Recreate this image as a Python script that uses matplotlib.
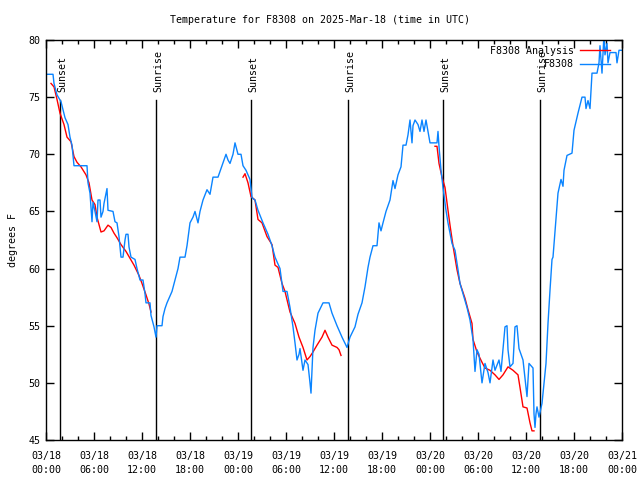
import numpy as np
import matplotlib
matplotlib.use("Agg")
import matplotlib.pyplot as plt

# hours since 2025-03-18 00:00 UTC
obs_hours = [0.125, 0.875, 1.0, 1.375, 1.875, 2.125, 2.375, 2.75, 3.0, 3.25, 3.375, 3.5, 5.125, 5.25, 5.5, 5.75, 5.875,
             6.125, 6.375, 6.5, 6.75, 6.875, 7.125, 7.25, 7.5, 7.625, 7.75, 8.375, 8.625, 8.875, 9.125, 9.375, 9.625,
             9.875, 10.0, 10.25, 10.375, 10.625, 11.125, 11.375, 11.75, 12.125, 12.375, 12.5, 13.0, 13.125, 13.5,
             13.75, 13.875, 14.125, 14.5, 14.625, 14.875, 15.125, 15.75, 16.125, 16.5, 16.75, 17.375, 17.625, 18.0,
             18.375, 18.625, 19.0, 19.25, 19.625, 20.125, 20.5, 20.875, 21.5, 22.0, 22.5, 22.75, 23.0, 23.375, 23.625,
             24.0, 24.375, 24.625, 25.0, 25.5, 25.75, 26.125, 26.5, 27.125, 27.75, 28.25, 28.625, 29.25, 29.625,
             30.125, 30.5, 30.875, 31.125, 31.375, 31.625, 31.75, 32.125, 32.375, 32.75, 33.0, 33.125, 33.375, 33.625,
             34.0, 34.625, 35.375, 35.75, 36.375, 37.0, 37.625, 38.0, 38.625, 39.0, 39.5, 39.875, 40.25, 40.5, 40.875,
             41.375, 41.625, 41.875, 42.125, 42.5, 43.0, 43.375, 43.625, 44.0, 44.375, 44.625, 45.0, 45.25, 45.5,
             45.75, 45.875, 46.125, 46.5, 46.75, 47.0, 47.25, 47.5, 47.625, 48.0, 48.875, 49.0, 49.125, 49.375,
             49.625, 50.0, 50.25, 50.75, 51.125, 51.5, 51.75, 52.125, 52.625, 53.0, 53.375, 53.625, 53.875, 54.125,
             54.5, 54.875, 55.25, 55.5, 55.875, 56.125, 56.625, 56.875, 57.375, 57.625, 57.75, 58.0, 58.375, 58.625,
             58.875, 59.125, 59.625, 60.0, 60.125, 60.375, 60.625, 60.875, 61.0, 61.125, 61.25, 61.375, 61.625, 62.0,
             62.25, 62.5, 62.75, 63.0, 63.25, 63.375, 63.75, 64.0, 64.375, 64.625, 64.75, 65.125, 65.75, 66.0, 66.5,
             67.0, 67.375, 67.5, 67.75, 68.0, 68.25, 68.875, 69.125, 69.25, 69.5, 69.75, 69.875, 70.125, 70.25, 70.5,
             71.25, 71.375, 71.625, 72.0]
obs_temps = [77, 77, 76.2, 75.2, 74.6, 73.9, 73.2, 72.6, 71.5, 70.8, 69.9, 69, 69, 67.5, 66.6, 64.1, 65.8,
             65, 64.1, 66, 66, 64.5, 65, 65.7, 66.6, 67, 65.1, 65, 64.1, 64, 62.8, 61, 61,
             62.5, 63, 63, 61.9, 61, 60.8, 60, 59, 59, 57.8, 57, 57, 55.9, 54.9,
             54, 55, 55, 55, 55.8, 56.5, 57, 58, 59, 60, 61, 61, 62, 64,
             64.5, 65, 64, 65, 66, 66.9, 66.5, 68, 68, 69, 70, 69.5, 69.2, 70, 71,
             70, 70, 69, 68.6, 67.8, 66.2, 66, 65.1, 64, 63, 62, 61, 60, 58,
             58, 56.6, 54.9, 53.5, 52, 52.5, 53, 51.1, 52, 51.6, 50, 49.1, 53.1, 54.6,
             56.1, 57, 57, 56.1, 55, 54, 53.1, 54, 54.9, 56, 57, 58.4, 60.1, 61, 62,
             62, 64, 63.3, 64, 65, 66, 67.7, 67, 68.2, 68.9, 70.8, 70.8, 71.7, 73,
             71, 72.5, 73, 72.6, 72, 73, 72, 73, 72.5, 71, 71, 72, 70.7, 68.6,
             67.1, 65.1, 64, 62.2, 61.6, 59.9, 58.7, 57.8, 56.6, 55.5, 53.8, 51, 52.9, 52.5,
             50, 51.7, 50.9, 50, 52, 51.1, 52, 51, 54.9, 55, 52.9, 51.4, 51.7, 54.9,
             55, 53, 52, 49.6, 48.8, 51.7, 51.5, 51.3, 47.3, 46.1, 47.3, 47.9, 47, 48.2,
             50, 51.7, 55.2, 58.1, 60.8, 61, 64.3, 66.6, 67.8, 67.2, 68.6, 69.9, 70.1, 72.1, 73.6,
             75, 75, 74, 74.7, 74, 77.1, 77.1, 78, 79.5, 77.1, 80.5, 78.7, 79.7, 78, 78.9,
             78.9, 78, 79.1, 79.1]

ana1_hours = [0.625, 1.0, 1.375, 1.75, 2.25, 2.625, 3.125, 3.5, 3.875, 4.375, 5.0, 5.375, 5.75, 6.125, 6.375,
              6.875, 7.25, 7.75, 8.125, 8.5, 8.875, 9.375, 10.0, 10.5, 11.0, 11.625, 12.0, 12.5, 12.875, 13.125]
ana1_temps = [76.2, 75.9, 74.8, 73.6, 72.6, 71.5, 71.1, 69.8, 69.3, 68.9, 68.2, 67.5, 66, 65.6, 64.5,
              63.2, 63.3, 63.8, 63.6, 63.1, 62.7, 62.1, 61.5, 60.9, 60.3, 59.4, 58.7, 57.7, 56.9, 56.2]
ana2_hours = [24.625, 24.875, 25.25, 25.625, 26.125, 26.5, 27.0, 27.625, 28.25, 28.625, 29.0, 29.5, 29.875,
              30.5, 31.125, 31.625, 32.125, 32.625, 33.0, 33.375, 33.875, 34.5, 34.875, 35.25, 35.75, 36.375,
              36.625, 36.875]
ana2_temps = [68, 68.3, 67.5, 66.3, 66, 64.3, 64, 62.8, 62.1, 60.3, 60.1, 58.7, 58,
              56.2, 55.2, 54, 53.1, 52, 52.3, 52.7, 53.3, 54, 54.6, 54, 53.3, 53.1,
              52.9, 52.4]
ana3_hours = [48.625, 48.875, 49.125, 49.5, 49.875, 50.25, 50.5, 50.875, 51.375, 51.75, 52.375, 52.75, 53.25,
              53.375, 53.875, 54.5, 54.875, 55.5, 56.125, 56.625, 57.125, 57.75, 58.375, 59.0, 59.25, 59.625,
              60.125, 60.5, 60.75, 61.0]
ana3_temps = [70.7, 70.7, 69.2, 68, 67.1, 65.1, 63.8, 62, 59.9, 58.7, 57.4, 56.4, 55.2,
              53.8, 52.7, 51.8, 51.3, 51.1, 50.7, 50.3, 50.7, 51.4, 51.1, 50.7, 49.6, 47.9,
              47.8, 46.5, 45.8, 45.8]

sun_hours = [1.7, 13.7, 25.6, 37.7, 49.6, 61.7]
sun_labels = ["Sunset", "Sunrise", "Sunset", "Sunrise", "Sunset", "Sunrise"]

xtick_hours = [0, 6, 12, 18, 24, 30, 36, 42, 48, 54, 60, 66, 72]
xtick_labels = ["03/18\n00:00", "03/18\n06:00", "03/18\n12:00", "03/18\n18:00",
                "03/19\n00:00", "03/19\n06:00", "03/19\n12:00", "03/19\n18:00",
                "03/20\n00:00", "03/20\n06:00", "03/20\n12:00", "03/20\n18:00",
                "03/21\n00:00"]
yticks = [45, 50, 55, 60, 65, 70, 75, 80]

FONT = "DejaVu Sans Mono"
FS = 7.2
plt.rcParams['font.family'] = FONT
plt.rcParams['font.size'] = FS

fig = plt.figure(figsize=(6.4, 4.8), dpi=100)
ax = fig.add_axes([46/640, 40/480, 576/640, 400/480])

ax.set_xlim(0, 72)
ax.set_ylim(45, 80)

for h, lab in zip(sun_hours, sun_labels):
    ax.plot([h, h], [45, 74.75], color='black', lw=1.0, zorder=1)
    ax.text(h + 0.3, 75.45, lab, rotation=90, ha='center', va='bottom', fontsize=FS, zorder=3)

red = '#ff0000'
blue = '#0a84ff'
ax.plot(ana1_hours, ana1_temps, color=red, lw=1.0, zorder=2, label='F8308 Analysis')
ax.plot(ana2_hours, ana2_temps, color=red, lw=1.0, zorder=2)
ax.plot(ana3_hours, ana3_temps, color=red, lw=1.0, zorder=2)
ax.plot(obs_hours, obs_temps, color=blue, lw=1.0, zorder=2, label='F8308')

ax.set_xticks(xtick_hours)
ax.set_xticklabels(xtick_labels, linespacing=1.45)
ax.set_xticks(np.arange(0, 73, 2), minor=True)
ax.set_yticks(yticks)
ax.set_yticklabels([str(v) for v in yticks])
ax.tick_params(which='both', direction='in', top=True, right=True, width=1.0)
ax.tick_params(which='major', length=6, pad=4)
ax.tick_params(axis='x', which='major', pad=8)
ax.tick_params(which='minor', length=3)
ax.tick_params(axis='y', which='minor', left=False, right=False)
for s in ax.spines.values():
    s.set_linewidth(1.0)

ax.set_ylabel("degrees F", fontsize=FS)
ax.yaxis.set_label_coords(-0.048, 0.5)
fig.text(0.5, 1 - 20/480, "Temperature for F8308 on 2025-Mar-18 (time in UTC)", ha='center', va='center', fontsize=FS)

leg = ax.legend(loc='upper right', bbox_to_anchor=(1 - 6/576, 1), frameon=False, markerfirst=False,
                handlelength=3.0, handletextpad=0.6, borderaxespad=0.2, labelspacing=0.35, fontsize=FS)

fig.savefig("out.png", dpi=100)
